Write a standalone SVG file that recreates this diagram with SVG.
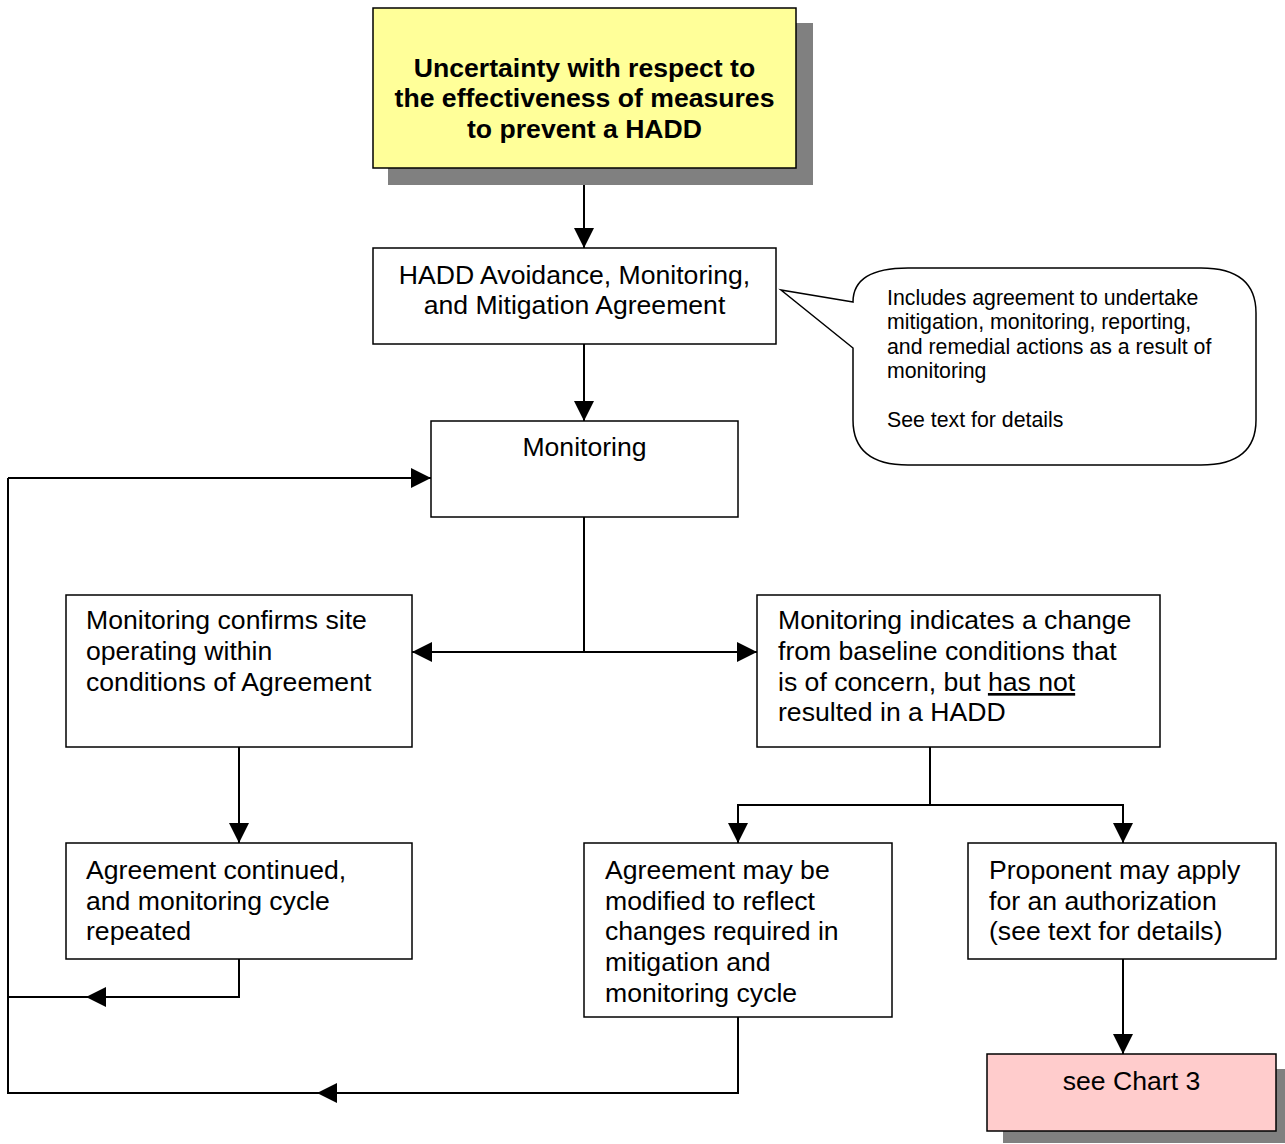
<svg xmlns="http://www.w3.org/2000/svg" width="1285" height="1144" viewBox="0 0 1285 1144">
<style>
.box{fill:#fff;stroke:#000;stroke-width:1.5}
.t{font-family:"Liberation Sans",Arial,sans-serif;font-size:26.6px;fill:#000}
.tc{text-anchor:middle}
.b{font-weight:bold}
.s{font-family:"Liberation Sans",Arial,sans-serif;font-size:21.3px;fill:#000}
.ln{fill:none;stroke:#000;stroke-width:2}
.shadow{fill:#808080}
</style>
<defs>
<marker id="ah" markerUnits="userSpaceOnUse" markerWidth="20" markerHeight="20" refX="20" refY="10" orient="auto">
<path d="M0,0 L20,10 L0,20 Z" fill="#000"/>
</marker>
</defs>
<rect width="1285" height="1144" fill="#fff"/>
<g id="connectors">
<path class="ln" d="M584,168 V248" marker-end="url(#ah)"/>
<path class="ln" d="M584,344 V421" marker-end="url(#ah)"/>
<path class="ln" d="M584,517 V652"/>
<path class="ln" d="M584,652 H412" marker-end="url(#ah)"/>
<path class="ln" d="M584,652 H757" marker-end="url(#ah)"/>
<path class="ln" d="M239,747 V843" marker-end="url(#ah)"/>
<path class="ln" d="M930,747 V805"/>
<path class="ln" d="M930,805 H738 V843" marker-end="url(#ah)"/>
<path class="ln" d="M930,805 H1123 V843" marker-end="url(#ah)"/>
<path class="ln" d="M1123,959 V1054" marker-end="url(#ah)"/>
<path class="ln" d="M239,959 V997 H8"/>
<path class="ln" d="M143,997 H86" marker-end="url(#ah)"/>
<path class="ln" d="M738,1017 V1093 H8 V478"/>
<path class="ln" d="M392,1093 H317" marker-end="url(#ah)"/>
<path class="ln" d="M8,478 H431" marker-end="url(#ah)"/>
</g>
<g id="n_top">
<rect class="shadow" x="388" y="23" width="425" height="162"/>
<rect x="373" y="8" width="423" height="160" fill="#FFFF99" stroke="#000" stroke-width="1.5"/>
<text class="t tc b" x="584.5" y="77">Uncertainty with respect to</text>
<text class="t tc b" x="584.5" y="107">the effectiveness of measures</text>
<text class="t tc b" x="584.5" y="138">to prevent a HADD</text>
</g>
<g id="n_hadd">
<rect class="box" x="373" y="248" width="403" height="96"/>
<text class="t tc" x="574.5" y="284">HADD Avoidance, Monitoring,</text>
<text class="t tc" x="574.5" y="314">and Mitigation Agreement</text>
</g>
<g id="n_callout">
<path d="M853,302 L781,290 L853,348 L853,420 Q853,465 908,465 L1201,465 Q1256,465 1256,420 L1256,313 Q1256,268 1201,268 L908,268 Q853,268 853,302 Z" fill="#fff" stroke="#000" stroke-width="1.5"/>
<text class="s" x="887" y="305">Includes agreement to undertake</text>
<text class="s" x="887" y="329">mitigation, monitoring, reporting,</text>
<text class="s" x="887" y="354">and remedial actions as a result of</text>
<text class="s" x="887" y="378">monitoring</text>
<text class="s" x="887" y="427">See text for details</text>
</g>
<g id="n_monitoring">
<rect class="box" x="431" y="421" width="307" height="96"/>
<text class="t tc" x="584.5" y="456">Monitoring</text>
</g>
<g id="n_confirms">
<rect class="box" x="66" y="595" width="346" height="152"/>
<text class="t" x="86" y="629">Monitoring confirms site</text>
<text class="t" x="86" y="660">operating within</text>
<text class="t" x="86" y="691">conditions of Agreement</text>
</g>
<g id="n_change">
<rect class="box" x="757" y="595" width="403" height="152"/>
<text class="t" x="778" y="629">Monitoring indicates a change</text>
<text class="t" x="778" y="660">from baseline conditions that</text>
<text class="t" x="778" y="691">is of concern, but <tspan text-decoration="underline">has not</tspan></text>
<text class="t" x="778" y="721">resulted in a HADD</text>
</g>
<g id="n_continued">
<rect class="box" x="66" y="843" width="346" height="116"/>
<text class="t" x="86" y="879">Agreement continued,</text>
<text class="t" x="86" y="910">and monitoring cycle</text>
<text class="t" x="86" y="940">repeated</text>
</g>
<g id="n_modified">
<rect class="box" x="584" y="843" width="308" height="174"/>
<text class="t" x="605" y="879">Agreement may be</text>
<text class="t" x="605" y="910">modified to reflect</text>
<text class="t" x="605" y="940">changes required in</text>
<text class="t" x="605" y="971">mitigation and</text>
<text class="t" x="605" y="1002">monitoring cycle</text>
</g>
<g id="n_proponent">
<rect class="box" x="968" y="843" width="308" height="116"/>
<text class="t" x="989" y="879">Proponent may apply</text>
<text class="t" x="989" y="910">for an authorization</text>
<text class="t" x="989" y="940">(see text for details)</text>
</g>
<g id="n_chart3">
<rect class="shadow" x="1003" y="1069" width="282" height="74"/>
<rect x="987" y="1054" width="289" height="77" fill="#FFCCCC" stroke="#000" stroke-width="1.5"/>
<text class="t tc" x="1131.5" y="1090">see Chart 3</text>
</g>
</svg>
